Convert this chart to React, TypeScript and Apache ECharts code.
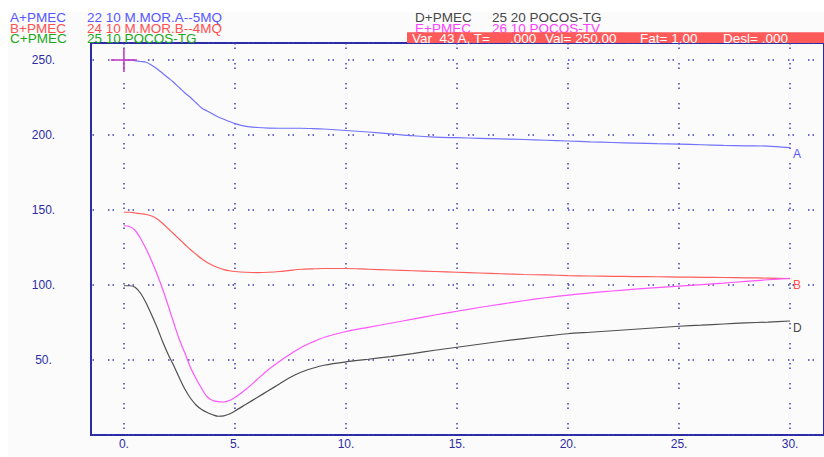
import React, { useEffect, useRef } from 'react';
import * as echarts from 'echarts';

// ---- data ----
const TIME = [0, 0.25, 0.5, 0.75, 1, 1.25, 1.5, 1.75, 2, 2.25, 2.5, 2.75, 3, 3.25, 3.5, 3.75, 4, 4.25, 4.5, 4.75,
  5, 5.5, 6, 6.5, 7, 7.5, 8, 8.5, 9,
  10, 11, 12, 13, 14, 15, 16, 17, 18, 19, 20, 21, 22, 23, 24, 25, 26, 27, 28, 29, 30];

const SERIES_A = [250, 250, 249.5, 249, 248.5, 246.5, 244, 241, 238, 235, 231.5, 228, 225, 221.5, 218, 216, 214, 212, 210.5, 209,
  207.6, 205.8, 205, 204.6, 204.5, 204.5, 204.5, 204.3, 204,
  203, 202, 200.8, 199.5, 198.6, 198.2, 197.8, 197.4, 197, 196.5, 196, 195.4, 195, 194.6, 194.2, 193.9, 193.5, 193.1, 192.8, 192.6, 191.6];

const SERIES_B = [148.5, 148.5, 148, 147.5, 147, 146, 144, 141, 137.5, 134, 130.5, 127, 123.5, 120.5, 117.5, 115, 113, 111.5, 110.3, 109.5,
  109, 108.5, 108.3, 108.5, 109, 109.8, 110.5, 110.8, 111,
  111, 110.5, 110, 109.5, 109, 108.5, 108, 107.5, 107, 106.7, 106.3, 106, 105.8, 105.6, 105.5, 105.3, 105.1, 105, 104.8, 104.6, 104.3];

const SERIES_D = [99.5, 99.5, 98.5, 94.5, 88, 80, 71.5, 62, 53.5, 46, 38, 30.5, 24.5, 20, 17, 15, 13.5, 12.5, 12.8, 14,
  16, 20.5, 25, 29.5, 34, 38.5, 42, 44.5, 46.5,
  48.8, 50.5, 52.3, 54.3, 56.5, 58.5, 60.5, 62.5, 64.3, 66, 67.5, 68.5, 69.5, 70.5, 71.5, 72.5, 73.2, 74, 74.7, 75.3, 76];

const SERIES_E = [139.5, 139, 136.5, 131, 124, 116, 107, 97, 86, 74.5, 63.5, 54.5, 45, 37.5, 31, 25.5, 23, 22.2, 22, 23,
  25, 30.5, 37, 43.5, 49, 54, 58.5, 62, 65,
  69, 71.8, 74.5, 77.2, 80, 82.5, 85, 87.3, 89.5, 91.5, 93.3, 94.7, 96, 97.2, 98.3, 99.3, 100.3, 101.3, 102.4, 103.5, 104.5];

const X_TICKS = [0, 5, 10, 15, 20, 25, 30];
const CURSOR = [[0, 250]];

const TAGS = ['A+PMEC', 'B+PMEC', 'C+PMEC', 'D+PMEC', 'E+PMEC'];
const DESCS = ['22 10 M.MOR.A--5MQ', '24 10 M.MOR.B--4MQ', '25 10 POCOS-TG', '25 20 POCOS-TG', '26 10 POCOS-TV'];
const STATUS = ['Var  43 A, T=', '.000', 'Val= 250.00', 'Fat= 1.00', 'Desl= .000'];

// ---- styles ----
const COLORS = ['#5757ff', '#ff5050', '#1aa81a', '#474747', '#ff40ff'];
const LINE_COLORS = ['#7272ff', '#ff5c5c', '#1aa81a', '#505050', '#ff55ff'];
const AXIS_COLOR = '#2c2ca6';
const GRID_DOT = '#3c3cb4';
const FONT = '"Liberation Sans", Arial, sans-serif';

export default function App() {
  const ref = useRef<HTMLDivElement>(null);

  useEffect(() => {
    if (!ref.current) return;
    const chart = echarts.init(ref.current, null, { renderer: 'svg' });

    const headerPos = [
      { x: 10, y: 17.5 }, { x: 10, y: 28.5 }, { x: 10, y: 38 },
      { x: 415, y: 17.5 }, { x: 415, y: 28 },
    ];
    const descX = [87, 87, 87, 492, 492];
    const statusX = [412, 510, 545, 640, 723];

    const graphic: any[] = [
      { type: 'rect', shape: { x: 0, y: 0, width: 824, height: 12 }, style: { fill: '#ffffff' }, z: -1 },
      { type: 'rect', shape: { x: 0, y: 0, width: 8, height: 457 }, style: { fill: '#ffffff' }, z: -1 },
    ];
    const txt = (text: string, x: number, y: number, fill: string, z: number) => ({
      type: 'text', x, y, z,
      style: { text, fill, font: `13.5px ${FONT}`, verticalAlign: 'middle', lineHeight: 10 },
    });
    TAGS.forEach((t, i) => {
      graphic.push(txt(t, headerPos[i].x, headerPos[i].y, COLORS[i], 5));
      graphic.push(txt(DESCS[i], descX[i], headerPos[i].y, COLORS[i], 5));
    });
    graphic.push({
      type: 'rect', z: 6, shape: { x: 407, y: 32.3, width: 417, height: 10.7 }, style: { fill: '#ff5a5a' },
    });
    STATUS.forEach((s, i) => {
      graphic.push(txt(s, statusX[i], 38, '#ffffff', 7));
    });

    const dots = { color: GRID_DOT, width: 1.5, type: [1.5, 3, 1.5, 14] as any, dashOffset: 3 };

    const mkLine = (name: string, vals: number[], idx: number, label: string | null, offset: number[]) => ({
      name,
      type: 'line',
      data: TIME.map((t, i) => [t, vals[i]]),
      showSymbol: false,
      smooth: 0.3,
      silent: true,
      lineStyle: { color: LINE_COLORS[idx], width: 1.2 },
      endLabel: label
        ? { show: true, formatter: label, color: COLORS[idx], fontSize: 12, fontFamily: FONT, offset }
        : { show: false },
      z: 3,
    });

    chart.setOption({
      animation: false,
      backgroundColor: '#fbfbfb',
      graphic,
      grid: {
        left: 91, top: 43, width: 735, height: 392,
        show: true, borderColor: AXIS_COLOR, borderWidth: 2, backgroundColor: '#fbfbfb',
      },
      xAxis: {
        type: 'value', min: -1.482, max: 31.527,
        axisLine: { show: false },
        axisTick: { show: false, customValues: X_TICKS },
        axisLabel: {
          customValues: X_TICKS,
          formatter: (v: number) => (X_TICKS.includes(v) ? v + '.' : ''),
          color: AXIS_COLOR, fontSize: 12, fontFamily: FONT, margin: 3,
        },
        splitLine: { show: true, lineStyle: { ...dots, dashOffset: 0 } },
      },
      yAxis: {
        type: 'value', min: 0, max: 261.33, interval: 50,
        axisLine: { show: false },
        axisTick: { show: false },
        axisLabel: {
          formatter: (v: number) => (v !== 0 && v % 50 === 0 ? v + '.' : ''),
          color: AXIS_COLOR, fontSize: 12, fontFamily: FONT, margin: 47.5, align: 'center',
          showMaxLabel: false,
        },
        splitLine: { show: true, lineStyle: dots },
      },
      series: [
        mkLine('A', SERIES_A, 0, 'A', [-5, 6]),
        mkLine('B', SERIES_B, 1, 'B', [-5, 6.5]),
        mkLine('D', SERIES_D, 3, 'D', [-5, 7.5]),
        mkLine('E', SERIES_E, 4, null, [0, 0]),
        {
          type: 'custom',
          data: CURSOR,
          silent: true,
          z: 10,
          renderItem: (_p: any, api: any) => {
            const p = api.coord([api.value(0), api.value(1)]);
            const st = { stroke: '#c43cc4', lineWidth: 1.6 };
            return {
              type: 'group',
              children: [
                { type: 'line', shape: { x1: p[0] - 13, y1: p[1], x2: p[0] + 13, y2: p[1] }, style: st },
                { type: 'line', shape: { x1: p[0], y1: p[1] - 12, x2: p[0], y2: p[1] + 12 }, style: st },
              ],
            };
          },
        },
      ],
    });

    return () => chart.dispose();
  }, []);

  return <div ref={ref} style={{ position: 'fixed', left: 0, top: 0, width: 824, height: 457 }} />;
}
